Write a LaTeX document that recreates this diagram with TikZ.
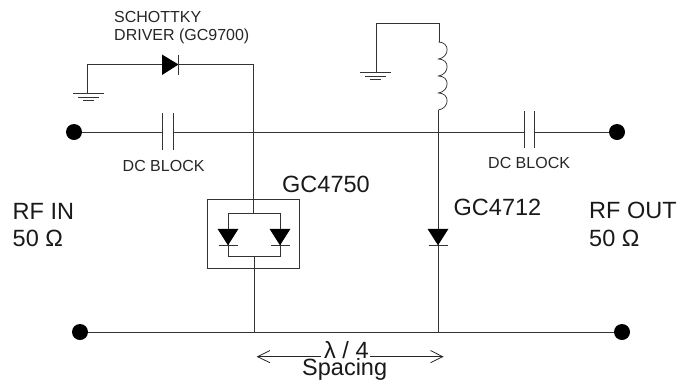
\documentclass[tikz,border=0pt]{standalone}
\usepackage{fontspec}
\setmainfont{Liberation Sans}
\usetikzlibrary{calc}
\tikzset{
  wire/.style={line width=0.85pt,draw=black!80},
  term/.style={circle,fill=black,inner sep=0pt,minimum size=16pt},
  small/.style={font=\fontsize{16}{18}\selectfont,anchor=base west,inner sep=0pt,text=black!85},
  big/.style={font=\fontsize{23.5}{26}\selectfont,anchor=base west,inner sep=0pt,text=black!90},
  dimline/.style={line width=0.8pt,draw=black!85}
}
\newcommand{\gndsym}[1]{%
  \draw[wire] ($(#1)+(-15.5,0)$) -- ($(#1)+(15.5,0)$);
  \draw[wire] ($(#1)+(-10.5,4)$) -- ($(#1)+(10.5,4)$);
  \draw[wire] ($(#1)+(-5.5,7)$) -- ($(#1)+(5.5,7)$);
}
\newcommand{\diodedown}[1]{%
  \fill[black] ($(#1)+(-10.5,-16.5)$) -- ($(#1)+(10.5,-16.5)$) -- (#1) -- cycle;
  \draw[wire] ($(#1)+(-9.5,0)$) -- ($(#1)+(9.5,0)$);
}
\begin{document}
\begin{tikzpicture}[x=1pt,y=-1pt]
\useasboundingbox (0,0) rectangle (689,384);
% terminals
\node[term] (tl) at (74,132) {};
\node[term] (tr) at (617,132) {};
\node[term] (bl) at (80,332) {};
\node[term] (br) at (622,332) {};
\coordinate (ra) at (254.3,332);
\coordinate (rb) at (438.7,332);
% rails
\draw[wire] (tl) -- (162.7,132);
\draw[wire] (173,132) -- (524,132);
\draw[wire] (534,132) -- (tr);
\draw[wire] (bl) -- (br);
% caps
\draw[wire] (162.7,113) -- (162.7,150);
\draw[wire] (173,113) -- (173,150);
\draw[wire] (524,111) -- (524,148);
\draw[wire] (534,111) -- (534,148);
% schottky branch
\coordinate (g1) at (87,93);
\coordinate (g1c) at (88.5,93);
\coordinate (dk) at (178.5,64.5);
\draw[wire] (g1) -- (87,64.5) -- (162,64.5);
\fill[black] (162,54.5) -- (162,75) -- (dk) -- cycle;
\draw[wire] (178.5,54.5) -- (178.5,75);
\draw[wire] (dk) -- (253.7,64.5) -- (253.7,213);
\gndsym{g1c}
% GC4750
\draw[wire] (207.3,199) rectangle (299.3,268);
\draw[wire] (228.3,213) rectangle (280.3,256);
\coordinate (d1) at (228,245.3);
\coordinate (d2) at (280,245.3);
\diodedown{d1}
\diodedown{d2}
\draw[wire] (254.3,256) -- (ra);
% inductor branch
\coordinate (g2) at (376,72);
\coordinate (g2c) at (375.5,72);
\draw[wire] (g2) -- (376,23) -- (439,23) -- (439,42);
\draw[line width=0.7pt,draw=black!85] (438.5,42)
  .. controls (450,42) and (450,57) .. (438.5,59)
  .. controls (450,59) and (450,74) .. (438.5,76)
  .. controls (450,76) and (450,91) .. (438.5,93)
  .. controls (450,93) and (450,108) .. (438.5,110);
\gndsym{g2c}
\draw[wire] (438.7,110) -- (rb);
\coordinate (d3) at (438,245.3);
\diodedown{d3}
% dimension
\coordinate (da) at (257.5,356.7);
\coordinate (db) at (442.7,356.7);
\coordinate (dc) at (320.7,356.7);
\coordinate (dd) at (370,356.7);
\draw[dimline] (dc) -- (da);
\draw[dimline] (dd) -- (db);
\draw[dimline] (270,350.5) -- (da) -- (270,362.7);
\draw[dimline] (430.5,350.5) -- (db) -- (430.5,362.7);
% text
\node[small] (s1) at (114,22.7) {SCHOTTKY};
\node[small] (s1b) at (114,40) {DRIVER (GC9700)};
\node[small] (s2) at (122.5,171) {DC BLOCK};
\node[small] (s3) at (488,168) {DC BLOCK};
\node[big] (s4) at (282,192) {GC4750};
\node[big] (s5) at (453.5,215) {GC4712};
\node[big] (s6) at (12.5,219) {RF IN};
\node[big] (s6b) at (12.5,246) {50 Ω};
\node[big] (s7) at (589,218) {RF OUT};
\node[big] (s7b) at (589,246) {50 Ω};
\node[big] (s8) at (324,358) {λ / 4};
\node[big] (s9) at (302,375) {Spacing};
\end{tikzpicture}
\end{document}
